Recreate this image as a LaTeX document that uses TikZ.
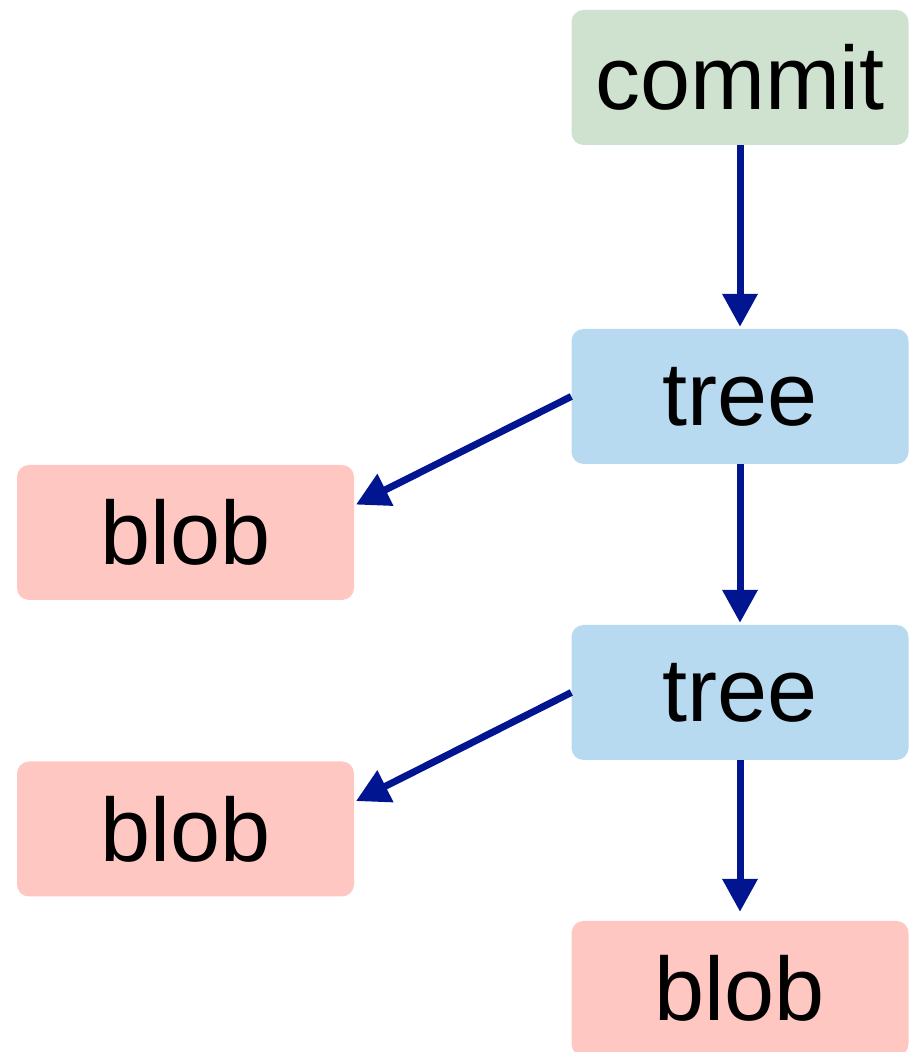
\documentclass[tikz,border=0pt]{standalone}
\usepackage{fontspec}
\setmainfont{Liberation Sans}
\usetikzlibrary{arrows.meta, positioning}
\usepackage{xcolor}
\definecolor{commitgreen}{RGB}{207,226,207}
\definecolor{treeblue}{RGB}{184,218,240}
\definecolor{blobpink}{RGB}{255,199,194}
\definecolor{linkblue}{RGB}{0,21,143}
\tikzset{objnode/.style={rectangle, rounded corners=12pt, minimum width=337pt, minimum height=135pt, inner sep=0pt, font=\fontsize{90}{90}\selectfont},commitnode/.style={objnode, fill=commitgreen},treenode/.style={objnode, fill=treeblue},blobnode/.style={objnode, fill=blobpink}}

\begin{document}
\begin{tikzpicture}[
        x=1pt, y=1pt,
        link/.style={-{Triangle[length=33pt, width=34pt]}, draw=linkblue, line width=7pt, shorten >=2pt}
    ]
        \clip (0pt, 0pt) rectangle (911pt, 1052pt);
        % Objects
        \node[commitnode] (commit) at (740pt, 974.5pt) {commit};
        \node[treenode] (treeA) at (740pt, 655.5pt) {tree};
        \node[blobnode] (blobA) at (185.5pt, 519.5pt) {blob};
        \node[treenode] (treeB) at (740pt, 359.5pt) {tree};
        \node[blobnode] (blobB) at (185.5pt, 223pt) {blob};
        \node[blobnode] (blobC) at (740pt, 63.5pt) {blob};
        % Links
        \draw[link] (commit) -- (treeA);
        \draw[link] (treeA.west) -- ([yshift=27pt]blobA.east);
        \draw[link] (treeA) -- (treeB);
        \draw[link] (treeB.west) -- ([yshift=27pt]blobB.east);
        \draw[link, shorten >=9pt] (treeB) -- (blobC);
    \end{tikzpicture}
\end{document}
